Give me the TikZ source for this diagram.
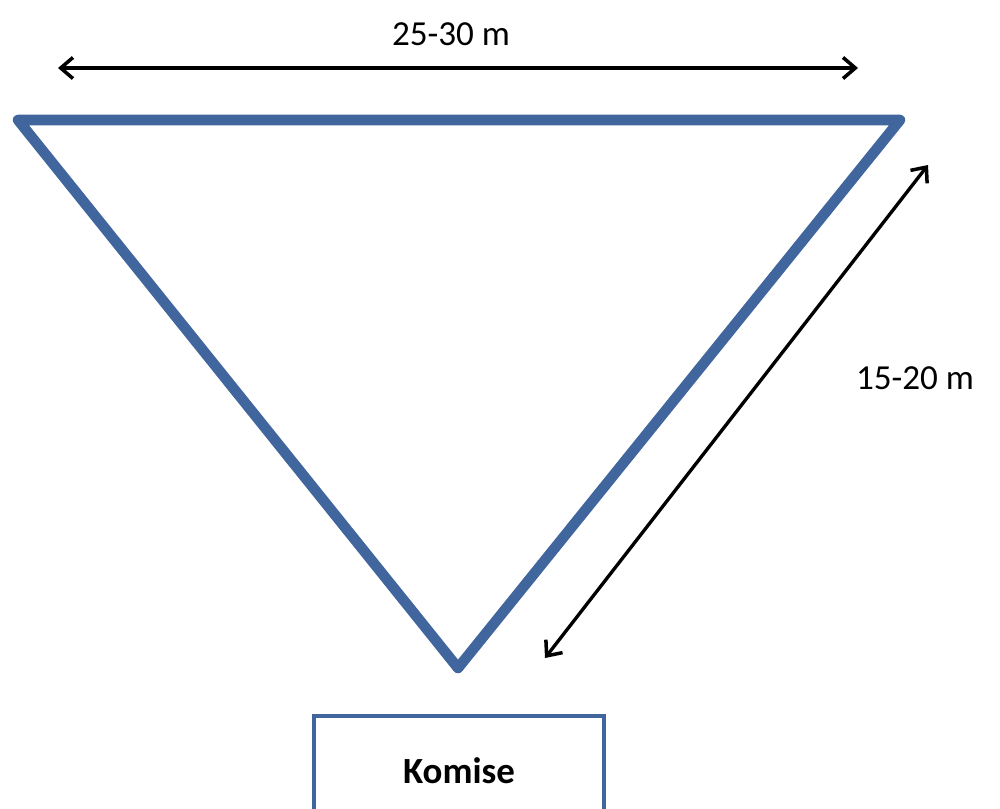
\documentclass[tikz,border=0pt]{standalone}
\usepackage{fontspec}
\setmainfont{Carlito}
\usepackage{xcolor}
\usepackage{tikz}
\usetikzlibrary{arrows.meta,positioning,calc}
\definecolor{FieldBlue}{HTML}{41669D}

\begin{document}
\begin{tikzpicture}[
	x=0.02cm, y=-0.02cm,
	field/.style={draw=FieldBlue, line width=6pt, line join=round},
	dimline/.style={{Straight Barb[length=7pt,width=12pt,line width=2pt]}-{Straight Barb[length=7pt,width=12pt,line width=2pt]}, line width=1.9pt},
	label/.style={font=\fontsize{20}{24}\selectfont},
	board/.style={draw=FieldBlue, line width=2.4pt, minimum width=290*0.02cm, minimum height=110*0.02cm, font=\bfseries\fontsize{21}{25}\selectfont}
]
\useasboundingbox (0,0) rectangle (1000,808);
\coordinate (left) at (18,120);
\coordinate (right) at (900,120);
\coordinate (apex) at (458,668);
\draw[field] (left) -- (right) -- (apex) -- cycle;

\coordinate (topA) at (58,68);
\coordinate (topB) at (858,68);
\draw[dimline] (topA) -- (topB);
\node[label] (width) at (451,34) {25-30 m};

\coordinate (sideA) at (928,165);
\coordinate (sideB) at (545,658);
\draw[dimline] (sideA) -- (sideB);
\node[label] (side) at (915,378) {15-20 m};

\node[board, anchor=north] (komise) at (459,714) {Komise};
\end{tikzpicture}
\end{document}
